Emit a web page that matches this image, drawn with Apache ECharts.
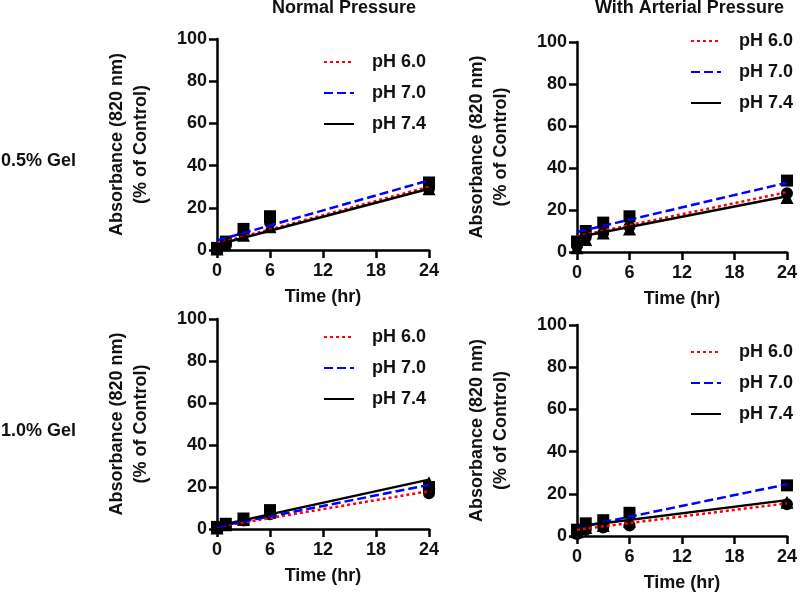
<!DOCTYPE html>
<html>
<head>
<meta charset="utf-8">
<script src="https://cdn.jsdelivr.net/npm/echarts@6/dist/echarts.min.js"></script>
<style>html,body{margin:0;padding:0;background:#fff;}#c{width:800px;height:598px;}</style>
</head>
<body>
<div id="c"></div>
<script>
// ---- data ----
const times = [0, 1, 3, 6, 24];
const fitTimes = [0, 24];
const xTicks = [0, 6, 12, 18, 24];
const yTicks = [0, 20, 40, 60, 80, 100];
const seriesNames = ['pH 6.0', 'pH 7.0', 'pH 7.4'];
const columnTitles = ['Normal Pressure', 'With Arterial Pressure'];
const rowTitles = ['0.5% Gel', '1.0% Gel'];

// 0.5% gel, normal pressure
const np05_ph60 = [0.5, 3, 8, 13, 29];
const np05_ph70 = [1, 4, 10, 16, 32];
const np05_ph74 = [0.5, 2.5, 7, 11, 29];
const np05_fit60 = [3, 30];
const np05_fit70 = [4.5, 33];
const np05_fit74 = [2.5, 29];
// 0.5% gel, arterial pressure
const ap05_ph60 = [3, 7, 9, 12, 28];
const ap05_ph70 = [5, 10, 14, 17, 34];
const ap05_ph74 = [2, 6, 9, 11, 26];
const ap05_fit60 = [7.5, 28.5];
const ap05_fit70 = [9.5, 33];
const ap05_fit74 = [7, 26.5];
// 1.0% gel, normal pressure
const np10_ph60 = [0.5, 2, 4, 7, 17];
const np10_ph70 = [1, 2.5, 5, 9, 20];
const np10_ph74 = [0.5, 2, 4.5, 8, 22];
const np10_fit60 = [1, 18];
const np10_fit70 = [1, 21];
const np10_fit74 = [1.5, 23.5];
// 1.0% gel, arterial pressure
const ap10_ph60 = [1, 3, 4, 5, 15];
const ap10_ph70 = [3, 6, 7.5, 11, 24];
const ap10_ph74 = [2, 4, 5, 7, 16];
const ap10_fit60 = [3, 15.5];
const ap10_fit70 = [4, 24.5];
const ap10_fit74 = [4.5, 17];

const panelPoints = [
  [np05_ph60, np05_ph70, np05_ph74],
  [ap05_ph60, ap05_ph70, ap05_ph74],
  [np10_ph60, np10_ph70, np10_ph74],
  [ap10_ph60, ap10_ph70, ap10_ph74]
];
const panelFits = [
  [np05_fit60, np05_fit70, np05_fit74],
  [ap05_fit60, ap05_fit70, ap05_fit74],
  [np10_fit60, np10_fit70, np10_fit74],
  [ap10_fit60, ap10_fit70, ap10_fit74]
];

// ---- styling / layout ----
const FONT = '"Liberation Sans", Arial, sans-serif';
const TXT = '#111';
const grids = [
  {left: 217, top: 39, width: 212, height: 211},
  {left: 577, top: 42, width: 210, height: 210},
  {left: 217, top: 319, width: 212, height: 210},
  {left: 577, top: 325, width: 210, height: 211}
];
const legendPos = [
  {left: 318, top: 47},
  {left: 685, top: 26},
  {left: 318, top: 322},
  {left: 685, top: 337}
];
const lineColors = ['#ff0000', '#0000ff', '#000000'];
const lineTypes = [[3, 3], [9, 4], 'solid'];
const symbols = ['circle', 'rect', 'triangle'];
const symbolSizes = [12, 12, 13];

const axisLineStyle = {color: '#000', width: 2.5};
const labelStyle = {color: TXT, fontSize: 18, fontWeight: 'bold', fontFamily: FONT};

const xAxis = [], yAxis = [], series = [], legend = [];
grids.forEach((g, i) => {
  xAxis.push({
    type: 'value', gridIndex: i, min: xTicks[0], max: xTicks[xTicks.length - 1], interval: 6,
    axisLine: {show: true, onZero: false, lineStyle: axisLineStyle},
    axisTick: {show: true, length: 8, lineStyle: {width: 2.5, color: '#000'}},
    axisLabel: Object.assign({margin: 12}, labelStyle),
    splitLine: {show: false},
    name: 'Time (hr)', nameLocation: 'middle', nameGap: 38,
    nameTextStyle: labelStyle
  });
  yAxis.push({
    type: 'value', gridIndex: i, min: yTicks[0], max: yTicks[yTicks.length - 1], interval: 20,
    axisLine: {show: true, onZero: false, lineStyle: axisLineStyle},
    axisTick: {show: true, length: 8, lineStyle: {width: 2.5, color: '#000'}},
    axisLabel: Object.assign({margin: 10}, labelStyle),
    splitLine: {show: false},
    name: 'Absorbance (820 nm)\n(% of Control)', nameLocation: 'middle', nameGap: 64,
    nameRotate: 90,
    nameTextStyle: Object.assign({lineHeight: 24}, labelStyle)
  });
  seriesNames.forEach((nm, k) => {
    series.push({
      type: 'scatter', name: nm + ' data', xAxisIndex: i, yAxisIndex: i,
      symbol: symbols[k], symbolSize: symbolSizes[k],
      itemStyle: {color: '#000', opacity: 1}, clip: false, z: 2,
      data: times.map((t, j) => [t, panelPoints[i][k][j]])
    });
  });
  seriesNames.forEach((nm, k) => {
    series.push({
      type: 'line', name: nm, xAxisIndex: i, yAxisIndex: i,
      symbol: 'none', z: 3, silent: true,
      lineStyle: {color: lineColors[k], width: 2.5, type: lineTypes[k]},
      itemStyle: {color: lineColors[k]},
      data: fitTimes.map((t, j) => [t, panelFits[i][k][j]])
    });
  });
  legend.push({
    orient: 'vertical', left: legendPos[i].left, top: legendPos[i].top,
    data: seriesNames, itemWidth: 30, itemHeight: 14, itemGap: 11,
    selectedMode: false,
    itemStyle: {opacity: 0},
    textStyle: Object.assign({lineHeight: 20, padding: [0, 0, 0, 13]}, labelStyle)
  });
});

const graphic = [
  {type: 'text', left: 272, top: -1, style: {text: columnTitles[0], fill: TXT, font: 'bold 18px ' + FONT}},
  {type: 'text', left: 595, top: -1, style: {text: columnTitles[1], fill: TXT, font: 'bold 18px ' + FONT}},
  {type: 'text', left: 1, top: 152, style: {text: rowTitles[0], fill: TXT, font: 'bold 18px ' + FONT}},
  {type: 'text', left: 1, top: 422, style: {text: rowTitles[1], fill: TXT, font: 'bold 18px ' + FONT}}
];

const chart = echarts.init(document.getElementById('c'), null, {renderer: 'canvas'});
chart.setOption({
  animation: false,
  backgroundColor: '#fff',
  grid: grids.map(g => Object.assign({containLabel: false}, g)),
  xAxis, yAxis, series, legend, graphic
});
</script>
</body>
</html>
